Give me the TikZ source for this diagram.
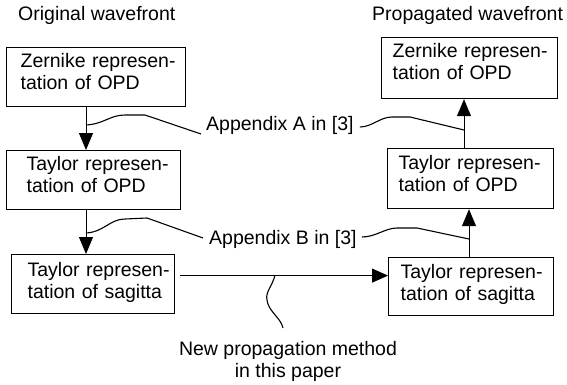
\documentclass[tikz,border=0pt]{standalone}
\usepackage{fontspec}
\setmainfont{Liberation Sans}
\usetikzlibrary{arrows.meta}
\begin{document}
\begin{tikzpicture}[x=1pt,y=-1pt,
  stepbox/.style={draw, line width=1.2pt, anchor=north west, inner ysep=0pt,
    align=left, text height=20pt, text depth=39pt,
    font=\fontsize{19.5}{21.5}\selectfont},
  lbl/.style={inner sep=0pt, font=\fontsize{19.5}{22}\selectfont},
  arr/.style={line width=1pt, -{Triangle[length=17pt,width=14pt]}},
  callout/.style={line width=1.1pt}]
\useasboundingbox (0,0) rectangle (567,385);
% titles
\node[lbl, anchor=base west] (t1) at (18,21) {Original wavefront};
\node[lbl, anchor=base west] (t2) at (372,21) {Propagated wavefront};
% left column
\node[stepbox, inner xsep=14pt, text width=151pt] (b1) at (6,47) {\mbox{Zernike represen-}\\tation of OPD};
\node[stepbox, inner xsep=20pt, text width=134pt] (b2) at (6,150) {\mbox{Taylor represen-}\\tation of OPD};
\node[stepbox, inner xsep=16pt, text width=131pt, text depth=37pt, text height=22pt] (b3) at (11,254) {\mbox{Taylor represen-}\\\mbox{tation of sagitta}};
% right column
\node[stepbox, inner xsep=11pt, text width=154pt, text height=20pt, text depth=41pt] (b4) at (381,37) {\mbox{Zernike represen-}\\tation of OPD};
\node[stepbox, inner xsep=11pt, text width=144pt, text height=21pt, text depth=39pt] (b5) at (387,148) {\mbox{Taylor represen-}\\tation of OPD};
\node[stepbox, inner xsep=12pt, text width=141pt, text height=21pt, text depth=37pt] (b6) at (388,257) {\mbox{Taylor represen-}\\\mbox{tation of sagitta}};
% labels
\node[lbl, anchor=base west] (la) at (206,131) {Appendix A in [3]};
\node[lbl, anchor=base west] (lb) at (209,244) {Appendix B in [3]};
\node[lbl, anchor=base, align=center] (ln) at (288,377) {New propagation method\\in this paper};
% connectors
\draw[arr] ([xshift=80pt]b1.south west) -- ([xshift=80pt]b1.south west |- b2.north);
\draw[arr] ([xshift=80pt]b2.south west) -- ([xshift=80pt]b2.south west |- b3.north);
\draw[arr, -{Triangle[length=16pt,width=14pt]}, shorten <=5pt] ([yshift=8.5pt]b3.east) -- ([yshift=8.5pt]b3.east -| b6.west);
\draw[arr] ([xshift=81pt]b6.north west) -- ([xshift=81pt]b6.north west |- b5.south);
\draw[arr] ([xshift=77pt]b5.north west) -- ([xshift=77pt]b5.north west |- b4.south);
% callouts
\coordinate (ca1) at (86,125);
\coordinate (ca2) at (464,130);
\coordinate (cb1) at (86,233);
\coordinate (cb2) at (469,239);
\coordinate (cn) at (275,275);
\draw[callout] (ca1) .. controls (104,124) and (110,115) .. (125,115) -- (145,115) -- ([xshift=-5pt,yshift=-3pt]la.base west);
\draw[callout] ([xshift=6pt,yshift=4pt]la.base east) .. controls (372,127) and (380,117) .. (392,117) -- (410,117) -- (ca2);
\draw[callout] (cb1) .. controls (104,232) and (110,219) .. (125,219) -- (147,218) -- ([xshift=-6pt,yshift=6pt]lb.base west);
\draw[callout] ([xshift=5pt,yshift=7pt]lb.base east) .. controls (376,237) and (385,228) .. (397,228) -- (417,228) -- (cb2);
\draw[callout] (cn) .. controls (273,285) and (265,292) .. (267,300) .. controls (268,311) and (281,318) .. (283,328);
\end{tikzpicture}
\end{document}
